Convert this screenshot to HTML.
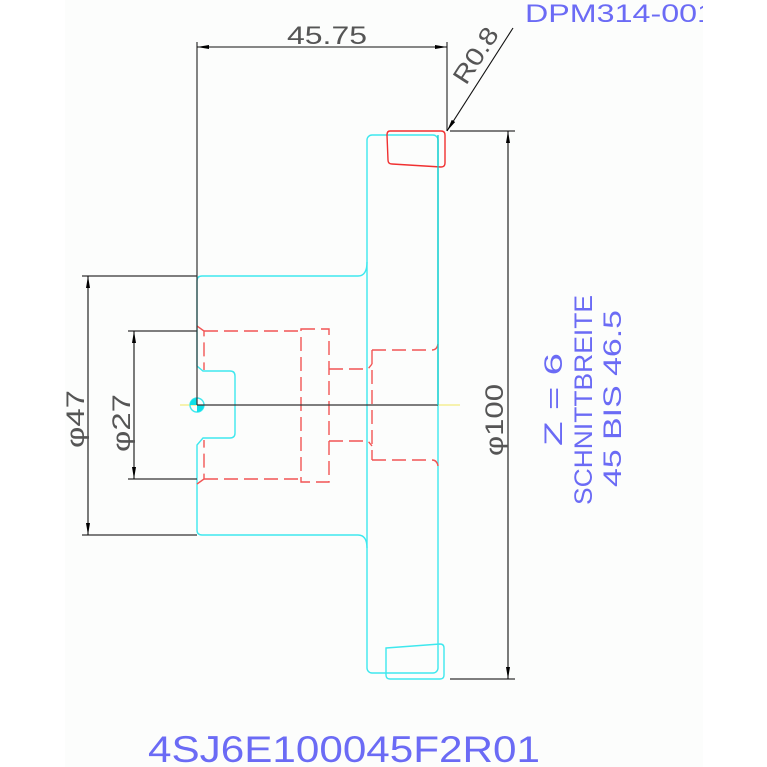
<!DOCTYPE html>
<html><head><style>
html,body{margin:0;padding:0;background:#fff}
svg{display:block}
text{font-family:"Liberation Sans",sans-serif}
</style></head><body>
<svg width="767" height="767" viewBox="0 0 767 767" xmlns="http://www.w3.org/2000/svg">
<defs>
<clipPath id="pg"><rect x="65" y="0" width="638" height="767"/></clipPath>
<marker id="ah" viewBox="0 0 12 4" refX="12" refY="2" markerWidth="12" markerHeight="4" markerUnits="userSpaceOnUse" orient="auto-start-reverse"><path d="M0,0 L12,2 L0,4z" fill="#000"/></marker>
</defs>
<rect x="65" y="0" width="638" height="767" fill="#fcfdfc"/>
<g clip-path="url(#pg)">
<line x1="180" y1="405" x2="460" y2="405" stroke="#f0e860" stroke-width="1"/>
<g fill="none" stroke="#3ee8ee" stroke-width="1.4">
<rect x="367" y="135" width="71" height="538" rx="5"/>
<path d="M386,648 L440,644 Q444,644 444,648 L444,675 Q444,679 440,679 L390,679 Q386,679 386,675Z"/>
<path d="M367,262 Q367,276 358,276 L202,276 Q197,276 197,281 L197,366 L203,371 L230,371 Q235,371 235,376 L235,433 Q235,438 230,438 L203,438 L197,445 L197,530 Q197,535 202,535 L358,535 Q367,535 367,548"/>
<circle cx="197" cy="405" r="7"/>
</g>
<path d="M197,405 L197,398 A7,7 0 0 0 190,405Z M197,405 L204,405 A7,7 0 0 1 197,412Z" fill="#10e0e8"/>
<path d="M390,131 L441,131 Q445,131 445,135 L445,163 Q445,167 441,167 L392,164 Q388,164 388,160 L387,135 Q387,131 390,131Z" fill="none" stroke="#f03030" stroke-width="1.4"/>
<g fill="none" stroke="#f25555" stroke-width="1.4" stroke-dasharray="14,6">
<path d="M197,326 L204,331 L204,370"/>
<path d="M204,331 L301,331"/>
<path d="M197,484 L204,479 L204,440"/>
<path d="M204,479 L301,479"/>
<rect x="301" y="329" width="28" height="153"/>
<path d="M329,369 L368,369 L372,364"/>
<path d="M329,441 L368,441 L372,446"/>
<path d="M372,350 L372,460"/>
<path d="M372,350 L432,350 Q437,350 438,344"/>
<path d="M372,460 L432,460 Q437,460 438,466"/>
</g>
<g stroke="#333" stroke-width="1.2" fill="none">
<line x1="197" y1="42" x2="197" y2="405"/>
<line x1="197" y1="405" x2="438" y2="405"/>
<line x1="447" y1="42" x2="447" y2="131"/>
<line x1="450" y1="131" x2="515" y2="131"/>
<line x1="450" y1="679" x2="515" y2="679"/>
<line x1="82" y1="276" x2="197" y2="276"/>
<line x1="82" y1="535" x2="197" y2="535"/>
<line x1="128" y1="331" x2="197" y2="331"/>
<line x1="128" y1="479" x2="197" y2="479"/>
</g>
<line x1="438" y1="135" x2="438" y2="405" stroke="#1cc" stroke-width="1.3"/>
<g stroke="#111" stroke-width="1.1">
<line x1="197" y1="47" x2="447" y2="47" marker-start="url(#ah)" marker-end="url(#ah)"/>
<line x1="513" y1="28" x2="447" y2="131" marker-end="url(#ah)"/>
<line x1="508" y1="131" x2="508" y2="679" marker-start="url(#ah)" marker-end="url(#ah)"/>
<line x1="88" y1="276" x2="88" y2="535" marker-start="url(#ah)" marker-end="url(#ah)"/>
<line x1="134" y1="331" x2="134" y2="479" marker-start="url(#ah)" marker-end="url(#ah)"/>
</g>
<g fill="#555" font-size="25" lengthAdjust="spacingAndGlyphs">
<text x="287" y="44" textLength="80" lengthAdjust="spacingAndGlyphs">45.75</text>
<text transform="translate(466,86) rotate(-57)" textLength="62" lengthAdjust="spacingAndGlyphs">R0.8</text>
<text transform="translate(503,456) rotate(-90)" textLength="72" lengthAdjust="spacingAndGlyphs">φ100</text>
<text transform="translate(84,448) rotate(-90)" textLength="58" lengthAdjust="spacingAndGlyphs">φ47</text>
<text transform="translate(130,452) rotate(-90)" textLength="58" lengthAdjust="spacingAndGlyphs">φ27</text>
</g>
<g fill="#6b6bf5" font-size="25">
<text transform="translate(562,446) rotate(-90)" textLength="93" lengthAdjust="spacingAndGlyphs">Z = 6</text>
<text transform="translate(592,505) rotate(-90)" textLength="210" lengthAdjust="spacingAndGlyphs">SCHNITTBREITE</text>
<text transform="translate(621,487) rotate(-90)" textLength="177" lengthAdjust="spacingAndGlyphs">45 BIS 46.5</text>
<text x="525" y="22" textLength="190" lengthAdjust="spacingAndGlyphs">DPM314-001</text>
</g>
<text x="148" y="762" font-size="37" fill="#6b6bf5" textLength="392" lengthAdjust="spacingAndGlyphs">4SJ6E100045F2R01</text>
</g>
</svg>
</body></html>
